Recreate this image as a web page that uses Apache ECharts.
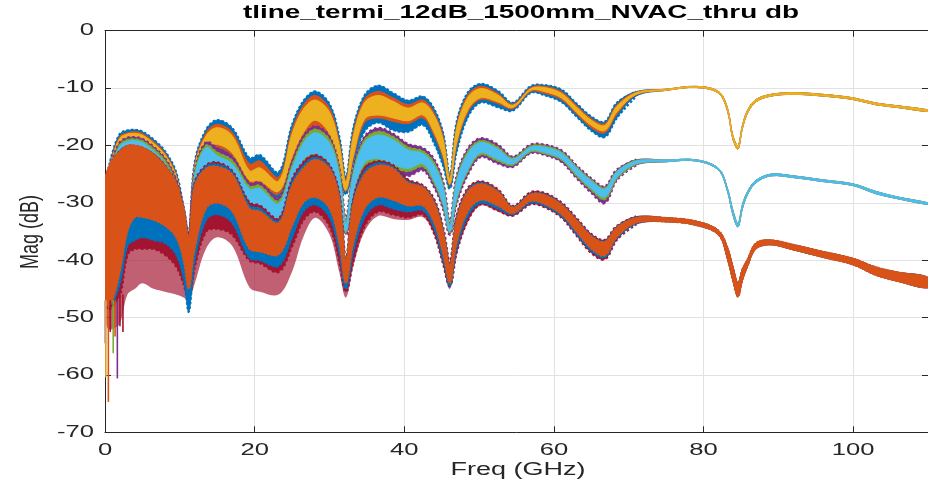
<!DOCTYPE html>
<html><head><meta charset="utf-8">
<script src="https://cdn.jsdelivr.net/npm/echarts@6/dist/echarts.min.js"></script>
<style>html,body{margin:0;padding:0;background:#fff}#c{width:928px;height:486px}</style>
</head><body><div id="c"></div>
<script>
// Frequency grid (GHz)
const freqs = [0,0.4,1,2,3,4,5,6.5,8,9.5, 10.5,11.2,12,13.5,15,17,19.3,20.7,23.2,25, 26.5,28.1,30,31.3,32.2,33.2,34.7,36.5,38.5,40.5, 42.5,44,45.2,46.1,47,48.5,50.2,52.5,54.5,56.9, 58.7,61,63,65,66.8,68.4,71,75,79,82, 83.2,83.9,84.6,85.2,85.9,87,89,92,96,100, 103,106,110];

// Top group: trace 1 (blue), trace 2 (orange), trace 3 (yellow) - upper / lower envelopes (dB)
const t1Hi = [-26.5,-24.5,-21.3,-18,-17.4,-17.3,-17.6,-19,-21,-24.7, -31,-35.5,-23,-17.3,-15.6,-17,-22.2,-21.7,-24.7,-16.5, -12.3,-10.6,-12.8,-18.5,-25.5,-17,-11.3,-9.6,-10.9,-12.2, -11.5,-13.7,-18,-25.3,-16,-10.8,-9.3,-10.5,-12.6,-9.7, -9.5,-10.3,-12.7,-15,-15.9,-12.6,-10.6,-10.2,-9.7,-10.6, -13.5,-18.2,-20,-16.5,-13.8,-12,-11.1,-10.8,-11.1,-11.7, -12.6,-13.1,-13.8];
const t1Lo = [-31,-29,-26,-22.5,-21,-20.5,-21,-22.5,-24.5,-28.5, -34,-38,-27,-21.5,-21,-22.5,-27,-27,-29,-23, -19,-17.5,-19.5,-25,-28.5,-23,-17.5,-16,-17.3,-17.6, -16.4,-19.6,-23.5,-27.5,-21,-15,-12.5,-13.3,-13.9,-10.8, -11.2,-12.4,-14.9,-17.4,-18.5,-15.2,-11.4,-10.4,-9.9,-10.9, -14,-18.8,-20.6,-17,-14.3,-12.4,-11.4,-11.1,-11.4,-12, -12.9,-13.4,-14.1];
const t2Hi = [-27,-25,-21.7,-18.4,-17.8,-17.6,-17.9,-19.3,-21.3,-25, -31.3,-35.7,-23.3,-17.8,-16.3,-17.7,-23.2,-22.7,-25.5,-17.3, -13,-11.3,-13.5,-19.2,-26,-17.7,-11.9,-10.6,-11.7,-12.9, -12.1,-14.3,-18.5,-25.5,-16.5,-11.2,-9.7,-10.9,-12.8,-9.9, -9.7,-10.6,-13,-15.3,-16.2,-12.9,-10.7,-10.2,-9.7,-10.6, -13.5,-18.2,-20,-16.5,-13.8,-12,-11.1,-10.8,-11.1,-11.7, -12.6,-13.1,-13.8];
const t2Lo = [-30.5,-28.5,-25.5,-22,-20.5,-20,-20.5,-22,-24,-28, -33.6,-37.6,-26.5,-21,-20.3,-21.8,-26.5,-26.6,-28.5,-22.5, -18.3,-16.8,-18.8,-24.3,-28,-22.3,-16,-15.2,-15.8,-16.2, -15.2,-18.3,-22.3,-27,-20,-14.2,-12,-12.7,-13.6,-10.6, -10.9,-12,-14.5,-16.9,-17.8,-14.6,-11.2,-10.4,-9.9,-10.9, -14,-18.8,-20.6,-17,-14.3,-12.4,-11.4,-11.1,-11.4,-12, -12.9,-13.4,-14.1];
const t3Hi = [-27.3,-25.3,-22,-18.7,-18,-17.9,-18.2,-19.6,-21.6,-25.3, -31.6,-36,-23.6,-18.3,-16.9,-18.3,-24.4,-23.9,-26.2,-18, -13.7,-12.1,-14.2,-19.9,-26.3,-18.3,-12.5,-11.3,-12.3,-13.5, -12.6,-14.8,-19,-25.7,-17,-11.6,-10.1,-11.2,-13,-10.1, -9.9,-10.9,-13.3,-15.6,-16.5,-13.2,-10.8,-10.2,-9.7,-10.6, -13.5,-18.2,-20,-16.5,-13.8,-12,-11.1,-10.8,-11.1,-11.7, -12.6,-13.1,-13.8];
const t3Lo = [-30,-28,-25,-21.5,-20,-19.6,-20,-21.5,-23.5,-27.5, -33.3,-37.3,-26,-20.5,-19.8,-21.3,-26.1,-26.2,-28,-22, -17.8,-15.6,-18,-23.8,-27.8,-21.8,-15.4,-14.7,-15.2,-15.7, -14.7,-17.8,-21.8,-26.7,-19.5,-13.8,-11.7,-12.4,-13.4,-10.4, -10.6,-11.7,-14.2,-16.5,-17.4,-14.2,-11.1,-10.4,-9.9,-10.9, -14,-18.8,-20.6,-17,-14.3,-12.4,-11.4,-11.1,-11.4,-12, -12.9,-13.4,-14.1];

// Middle group: trace 4 (purple), trace 5 (green), trace 6 (light blue)
const m1Hi = [-28,-25.5,-22.5,-19.5,-18.7,-18.6,-18.9,-20.3,-22.3,-26, -32,-36.5,-24.5,-19.5,-20.5,-22,-26.6,-26.5,-29.2,-23, -18.5,-16.7,-18.5,-24,-33,-24,-18.5,-17,-18,-19.8, -20.5,-22.5,-26.5,-33.5,-25.5,-20.6,-18.8,-19.9,-22,-19.9, -19.9,-20.9,-23.5,-25.8,-27.2,-24.3,-22.5,-22.55,-22.5,-24, -27.5,-31.2,-33.6,-30.3,-28,-26.1,-25,-25.3,-26,-26.7, -28,-29,-30];
const m1Lo = [-31,-30,-28,-25,-24,-24,-24,-25,-27,-30, -35,-40,-30,-24.5,-24.5,-26,-31,-31.5,-34.5,-28, -23,-22,-24,-30,-35.5,-29,-24,-23.5,-24.6,-25.3, -24.3,-27.2,-31,-35.5,-30,-25,-22,-23.1,-23.7,-21.3, -21.6,-22.8,-25.6,-28.2,-30,-26,-23.4,-22.85,-22.7,-24.3, -28,-32,-34.2,-31,-28.5,-26.5,-25.3,-25.6,-26.3,-27, -28.4,-29.3,-30.3];
const m2Hi = [-28.5,-26,-23,-19.8,-19,-18.9,-19.2,-20.6,-22.6,-26.4, -32.3,-36.7,-24.8,-20,-21.2,-22.6,-27.1,-27,-29.7,-23.5, -19,-17.2,-19,-24.5,-33.3,-24.5,-19,-17.6,-18.5,-20.3, -21,-23,-27,-33.7,-26,-21,-19.2,-20.3,-22.2,-20.1, -20.1,-21.1,-23.7,-26,-27.4,-24.5,-22.6,-22.55,-22.5,-24, -27.5,-31.2,-33.6,-30.3,-28,-26.1,-25,-25.3,-26,-26.7, -28,-29,-30];
const m2Lo = [-30.5,-29.5,-27.5,-24.5,-23.5,-23.5,-23.5,-24.5,-26.5,-29.5, -34.5,-39.5,-29.5,-24,-24,-25.5,-30.5,-31,-34.3,-27.7, -22.7,-21.7,-23.5,-29.5,-35.2,-28.5,-23.5,-22.8,-23.8,-24.5, -23.7,-26.6,-30.5,-35.2,-29.5,-24.5,-21.6,-22.7,-23.4,-21.1, -21.4,-22.5,-25.3,-27.8,-29.4,-25.8,-23.3,-22.85,-22.7,-24.3, -28,-32,-34.2,-31,-28.5,-26.5,-25.3,-25.6,-26.3,-27, -28.4,-29.3,-30.3];
const m3Hi = [-29,-26.3,-23.3,-20.1,-19.3,-19.2,-19.5,-21,-23,-26.8, -32.6,-37,-25.2,-20.4,-21.8,-23.2,-27.6,-27.5,-30.2,-24, -19.6,-17.8,-19.6,-25,-33.6,-25,-19.5,-18.2,-19,-20.8, -21.4,-23.5,-27.3,-34,-26.3,-21.4,-19.5,-20.6,-22.4,-20.3, -20.3,-21.3,-23.9,-26.2,-27.6,-24.6,-22.7,-22.55,-22.5,-24, -27.5,-31.2,-33.6,-30.3,-28,-26.1,-25,-25.3,-26,-26.7, -28,-29,-30];
const m3Lo = [-30,-29,-27,-24,-23,-23,-23,-24,-26,-29, -34,-39,-29,-23.8,-23.8,-25.3,-30.2,-30.8,-34.2,-27.5, -22.5,-21.5,-23.2,-29.2,-35,-28.2,-23,-22.3,-23.3,-24, -23.2,-26.2,-30.2,-35,-29.2,-24.2,-21.3,-22.4,-23.2,-20.9, -21.2,-22.3,-25,-27.5,-29,-25.6,-23.2,-22.85,-22.7,-24.3, -28,-32,-34.2,-31,-28.5,-26.5,-25.3,-25.6,-26.3,-27, -28.4,-29.3,-30.3];

// Bottom group: trace 7 (dark red), trace 8 (blue), trace 9 (orange)
const b1Hi = [-26,-25,-23,-21,-20.2,-20.2,-20.5,-21.6,-23.5,-26.5, -31,-36,-26.5,-23.5,-23,-24.5,-30,-30.5,-32.8,-26, -23,-21.7,-23.5,-28.5,-40,-29.5,-24,-22.8,-23.5,-26, -27,-29.5,-34.5,-40.5,-32.5,-27.5,-26.3,-27.7,-30.6,-28.2, -28.3,-30,-32.7,-35.5,-36.5,-34.1,-32.4,-32.6,-33.2,-34.8, -37.8,-41,-44,-41.5,-39.8,-37,-36.5,-37.3,-38.5,-39.7, -41.2,-42.1,-43];
const b1Lo = [-48,-48.5,-48,-46,-39,-38,-38,-38,-39,-41, -44,-47,-41,-35,-34.5,-35.5,-40,-40.5,-42,-37.5, -33,-31.5,-34,-40,-45.5,-40,-34,-31.5,-32,-32.5, -32,-35.3,-40.5,-44.5,-38.5,-33,-30.2,-31.3,-32.2,-30.2, -30.7,-32.5,-35.6,-38.7,-39.8,-36.4,-33.7,-33.3,-33.9,-35.6, -39.8,-43.5,-46.4,-43.5,-41,-38,-37.3,-38.2,-39.5,-40.8, -42.6,-43.7,-44.8];
const b1Spike = [-50,-52,-52,-51,-46,-45,-44,-45,-45.5,-46, -46.5,-47,-44,-38,-36,-37.5,-44.7,-45.5,-46,-42, -36,-32.6,-35.5,-42,-46.5,-41,-35,-32.3,-32.8,-33, -32.5,-35.5,-41,-45,-39,-33.3,-30.5,-31.5,-32.3,-30.3, -30.7,-32.5,-35.6,-38.7,-39.8,-36.4,-33.7,-33.3,-33.9,-35.6, -39.8,-43.5,-46.4,-43.5,-41,-38,-37.3,-38.2,-39.5,-40.8, -42.6,-43.7,-44.8];
const b2Hi = [-26.5,-24.5,-22.7,-21,-20.1,-20.1,-20.4,-21.5,-23.5,-26.5, -31,-36,-26.7,-23.7,-23.3,-24.7,-30.5,-31,-33.2,-26.5, -23.5,-22.1,-23.8,-28.8,-40,-29.8,-24.5,-23.1,-23.8,-26.3, -27.2,-29.8,-34.8,-40.8,-32.8,-27.8,-26.5,-27.9,-30.7,-28.4, -28.5,-30.2,-32.9,-35.7,-36.7,-34.2,-32.5,-32.6,-33.2,-34.8, -37.8,-41,-44,-41.5,-39.8,-37,-36.5,-37.3,-38.5,-39.7, -41.2,-42.1,-43];
const b2Lo = [-47.5,-48,-47.5,-44,-37.5,-36.5,-36,-36.5,-37,-39, -43,-49,-40,-33,-32,-33.5,-39.6,-40,-41,-36, -31.5,-30.3,-32.5,-38.5,-45,-38.5,-32.5,-30.3,-31,-31.5, -31.3,-34.5,-40,-44.5,-38,-32.3,-30,-31,-32,-30, -30.5,-32.3,-35.4,-38.4,-39.5,-36.2,-33.6,-33.3,-33.9,-35.6, -39.8,-43.5,-46.4,-43.5,-41,-38,-37.3,-38.2,-39.5,-40.8, -42.6,-43.7,-44.8];
const b3Hi = [-26,-24,-22.5,-21,-20,-20,-20.3,-21.5,-23.5,-26.5, -31,-36,-27,-24,-23.7,-25,-31,-31.5,-33.5,-27, -24,-22.5,-24,-29,-40,-30,-25,-23.5,-24,-26.5, -27.3,-30,-35,-41,-33,-28,-26.7,-28,-30.8,-28.5, -28.6,-30.3,-33,-35.8,-36.8,-34.3,-32.6,-32.6,-33.2,-34.8, -37.8,-41,-44,-41.5,-39.8,-37,-36.5,-37.3,-38.5,-39.7, -41.2,-42.1,-43];
const b3Lo = [-47,-48,-47,-42,-35,-32.5,-32.5,-33,-34,-36, -40,-45,-38,-31,-30,-31.5,-38,-38.5,-39,-34, -30,-29,-31,-37,-44,-37,-31,-29,-29.5,-30.5, -30.5,-33.5,-39,-44,-37,-31.5,-29.5,-30.5,-31.8,-29.7, -30.2,-32,-35,-38,-39.2,-36,-33.5,-33.3,-33.9,-35.6, -39.8,-43.5,-46.4,-43.5,-41,-38,-37.3,-38.2,-39.5,-40.8, -42.6,-43.7,-44.8];

// Isolated deep low-frequency excursions: [freq, from dB, to dB, trace index]
const lowSpikes = [[0.05,-47,-54.5,3],[0.12,-47,-60.4,2],[0.45,-47,-64.7,1],[0.7,-47,-52.5,6],[1.1,-47,-56.2,4],[1.35,-47,-53.3,1],[1.65,-47,-60.6,3],[2.0,-46,-51.5,6],[2.4,-46,-52.5,6]];

// Tick labels and texts
const xTicks = [0,20,40,60,80,100];
const yTicks = [0,-10,-20,-30,-40,-50,-60,-70];
const titleText = 'tline_termi_12dB_1500mm_NVAC_thru db';
const xName = 'Freq (GHz)';
const yName = 'Mag (dB)';

// MATLAB default line colours
const traceColors = ['#0072BD','#D95319','#EDB120','#7E2F8E','#77AC30','#4DBEEE','#A2142F'];

const chart = echarts.init(document.getElementById('c'), null, {renderer:'canvas'});
const SMOOTH = 0.35;

// Each trace is drawn as the band its fast ripple fills; a dashed edge imitates the ripple texture
function band(name, hi, lo, color, z, opts) {
  opts = opts || {};
  return {
    type:'custom', name, z, clip:true,
    xAxisIndex:0, yAxisIndex:0,
    data: freqs.map((f,i)=>[f, hi[i], lo[i]]),
    renderItem: function(params, api){
      if (params.dataIndex !== 0) return null;
      const top = [], bot = [];
      for (let i=0;i<freqs.length;i++) { top.push(api.coord([freqs[i], hi[i]])); bot.push(api.coord([freqs[i], lo[i]])); }
      const pts = top.concat(bot.slice().reverse());
      const children = [{type:'polygon', shape:{points:pts, smooth:SMOOTH},
        style:{fill:color, stroke:color, lineWidth: opts.lw==null?1:opts.lw, opacity: opts.opacity==null?1:opts.opacity}}];
      if (opts.dash) {
        const n = freqs.filter(f => f <= opts.dashMax).length;
        const es = {stroke:color, fill:null, lineWidth:opts.dashW, lineDash:opts.dash};
        children.push({type:'polyline', shape:{points:top.slice(0,n), smooth:SMOOTH}, style:es});
        children.push({type:'polyline', shape:{points:bot.slice(0,n), smooth:SMOOTH}, style:Object.assign({}, es)});
      }
      return {type:'group', children};
    }
  };
}

const series = [
  band('t1', t1Hi, t1Lo, traceColors[0], 1, {dash:[2.5,2], dashW:2.4, dashMax:71}),
  band('t2', t2Hi, t2Lo, traceColors[1], 2),
  band('t3', t3Hi, t3Lo, traceColors[2], 3),
  band('m1', m1Hi, m1Lo, traceColors[3], 4, {dash:[2.5,2.5], dashW:2.8, dashMax:71}),
  band('m2', m2Hi, m2Lo, traceColors[4], 5, {dash:[2.5,2.5], dashW:1.8, dashMax:71}),
  band('m3', m3Hi, m3Lo, traceColors[5], 6),
  band('b1spike', b1Lo, b1Spike, traceColors[6], 7, {opacity:0.68, lw:0}),
  band('b1', b1Hi, b1Lo, traceColors[6], 8, {dash:[2.5,2.5], dashW:2.8, dashMax:71}),
  band('b2', b2Hi, b2Lo, traceColors[0], 9, {dash:[2.5,2], dashW:2, dashMax:71}),
  band('b3', b3Hi, b3Lo, traceColors[1], 10, {dash:[2,2], dashW:1.8, dashMax:110}),
  {
    type:'custom', name:'spikes', z:11, xAxisIndex:0, yAxisIndex:0,
    data: lowSpikes,
    renderItem: function(params, api){
      const a = api.coord([api.value(0), api.value(1)]);
      const b = api.coord([api.value(0), api.value(2)]);
      return {type:'line', shape:{x1:a[0],y1:a[1],x2:b[0],y2:b[1]},
        style:{stroke: traceColors[api.value(3)], lineWidth:1.6}};
    }
  }
];

const axisColor = '#262626';
const font = 'Liberation Sans, Arial, Helvetica, sans-serif';
const tickCommon = {show:true, inside:true, length:6, lineStyle:{color:axisColor}};
const lineCommon = {show:true, onZero:false, lineStyle:{color:axisColor, width:1}};
const gridLine = {show:true, lineStyle:{color:'#e2e2e2', width:1}};

chart.setOption({
  animation:false,
  backgroundColor:'#fff',
  grid:{left:105, top:30.7, width:828, height:401.6, containLabel:false},
  xAxis:[
    {type:'value', min:0, max:110, interval:20, position:'bottom',
     axisLine:lineCommon, axisTick:tickCommon, axisLabel:{show:false}, splitLine:gridLine},
    {type:'value', min:0, max:110, interval:20, position:'top',
     axisLine:lineCommon, axisTick:tickCommon, axisLabel:{show:false}, splitLine:{show:false}}
  ],
  yAxis:[
    {type:'value', min:-70, max:0, interval:10, position:'left',
     axisLine:lineCommon, axisTick:tickCommon, axisLabel:{show:false}, splitLine:gridLine},
    {type:'value', min:-70, max:0, interval:10, position:'right',
     axisLine:lineCommon, axisTick:tickCommon, axisLabel:{show:false}, splitLine:{show:false}}
  ],
  series: series
});

// Texts (the reference renders its lettering horizontally widened)
const texts = [];
xTicks.forEach(v => {
  const px = chart.convertToPixel({xAxisIndex:0}, v);
  texts.push({type:'text', x:px, y:451, scaleX:1.6, z:100,
    style:{text:String(v), font:'16px ' + font, fill:axisColor, align:'center', verticalAlign:'middle', textAlign:'center', textVerticalAlign:'middle'}});
});
yTicks.forEach(v => {
  const py = chart.convertToPixel({yAxisIndex:0}, v);
  texts.push({type:'text', x:94, y:py, scaleX:1.6, z:100,
    style:{text:String(v), font:'16px ' + font, fill:axisColor, align:'right', verticalAlign:'middle', textAlign:'right', textVerticalAlign:'middle'}});
});
texts.push({type:'text', x:521, y:13, scaleX:1.55, z:100,
  style:{text:titleText, font:'bold 18px ' + font, fill:'#000', align:'center', verticalAlign:'middle', textAlign:'center', textVerticalAlign:'middle'}});
texts.push({type:'text', x:518, y:470, scaleX:1.5, z:100,
  style:{text:xName, font:'18px ' + font, fill:axisColor, align:'center', verticalAlign:'middle', textAlign:'center', textVerticalAlign:'middle'}});
texts.push({type:'text', x:31, y:232, rotation:Math.PI/2, scaleY:1.4, z:100,
  style:{text:yName, font:'18px ' + font, fill:axisColor, align:'center', verticalAlign:'middle', textAlign:'center', textVerticalAlign:'middle'}});
chart.setOption({graphic:{elements:texts}});
</script>
</body></html>
